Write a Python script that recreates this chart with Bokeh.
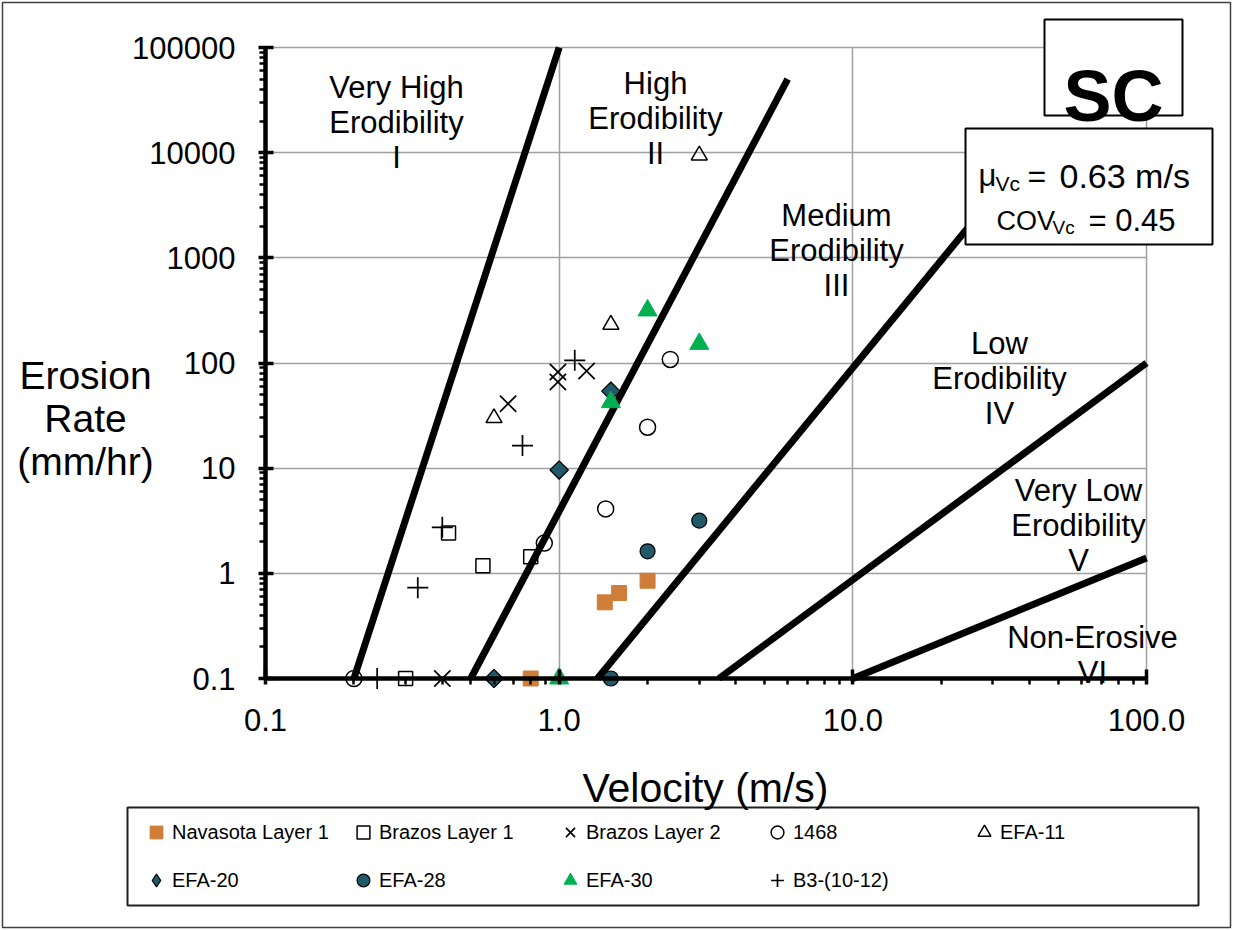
from bokeh.plotting import figure
from bokeh.models import (Range1d, FixedTicker, CustomJSTickFormatter, Label,
                          BoxAnnotation, Legend, LegendItem)
from bokeh.embed import file_html
from bokeh.resources import INLINE
import math

# ---------------- data (velocity m/s, erosion rate mm/hr) ----------------
navasota_v = [1.43, 1.6, 2.0, 0.8]
navasota_e = [0.53, 0.65, 0.85, 0.1]
brazos1_v = [0.42, 0.55, 0.8, 0.3]
brazos1_e = [2.42, 1.18, 1.44, 0.1]
brazos2_v = [0.67, 0.99, 0.99, 1.24, 0.4]
brazos2_e = [41, 82, 66, 84, 0.1]
s1468_v = [0.2, 0.89, 1.44, 2.0, 2.39]
s1468_e = [0.1, 1.94, 4.1, 24.5, 108]
efa11_v = [0.6, 1.5, 3.0]
efa11_e = [30, 232, 9440]
efa20_v = [1.0, 1.5, 0.6]
efa20_e = [9.6, 54, 0.1]
efa28_v = [2.0, 3.0, 1.5]
efa28_e = [1.62, 3.17, 0.1]
efa30_v = [2.0, 3.0, 1.5, 1.0]
efa30_e = [316, 152, 42.4, 0.1]
b3_v = [0.4, 0.33, 0.75, 1.13, 0.24]
b3_e = [2.74, 0.73, 16.4, 106, 0.1]

# erodibility category boundary lines
boundary_v = [[0.2, 1.0], [0.5, 6.0], [1.35, 40.0], [3.5, 100.0], [10.0, 100.0]]
boundary_e = [[0.1, 1e5], [0.1, 5e4], [0.1, 1e4], [0.1, 100.0], [0.1, 1.4]]

x_min, x_max = 0.1, 100
y_min, y_max = 0.1, 100000
x_ticks = [0.1, 1, 10, 100]
y_ticks = [0.1, 1, 10, 100, 1000, 10000, 100000]

region_texts = [["Very High", "Erodibility", "I"],
                ["High", "Erodibility", "II"],
                ["Medium", "Erodibility", "III"],
                ["Low", "Erodibility", "IV"],
                ["Very Low", "Erodibility", "V"],
                ["Non-Erosive", "VI"]]

# ---------------- geometry: plot area inside a full-canvas frame ----------------
W, H = 1233, 930
AL, AR, AT, AB = 265, 1146, 47, 678   # pixel box of the axes area


def fx(px):
    return 10 ** (math.log10(x_min) + math.log10(x_max / x_min) * (px - AL) / (AR - AL))


def fy(py):
    return 10 ** (math.log10(y_max) - math.log10(y_max / y_min) * (py - AT) / (AB - AT))


p = figure(width=W, height=H, x_axis_type="log", y_axis_type="log",
           x_range=Range1d(fx(0), fx(W)), y_range=Range1d(fy(H), fy(0)),
           output_backend="svg", toolbar_location=None,
           min_border=0, min_border_left=0, min_border_right=0,
           min_border_top=0, min_border_bottom=0)
p.outline_line_color = None
p.background_fill_color = "white"
p.border_fill_color = "white"


def minors(lo, hi):
    out = []
    for d in range(lo, hi):
        for k in range(2, 10):
            out.append(k * 10 ** d)
    return out


xt = FixedTicker(ticks=x_ticks, minor_ticks=minors(-1, 2))
yt = FixedTicker(ticks=y_ticks, minor_ticks=minors(-1, 5))
xa = p.xaxis[0]
ya = p.yaxis[0]
xa.ticker = xt
ya.ticker = yt
xa.fixed_location = y_min
ya.fixed_location = x_min
xa.bounds = (x_min, x_max)
ya.bounds = (y_min, y_max)
xa.formatter = CustomJSTickFormatter(code="return tick.toFixed(1);")
ya.formatter = CustomJSTickFormatter(
    code="return tick >= 1 ? tick.toFixed(0) : tick.toFixed(1);")
for ax in (xa, ya):
    ax.axis_line_color = "black"
    ax.axis_line_width = 4.5
    ax.major_tick_line_color = "black"
    ax.major_tick_line_width = 3.5
    ax.minor_tick_line_color = "black"
    ax.minor_tick_line_width = 2.5
    ax.major_label_text_font = "Liberation Sans"
    ax.major_label_text_font_size = "31px"
    ax.major_label_text_color = "black"
xa.major_tick_in = 9
xa.major_tick_out = 6
xa.minor_tick_in = 0
xa.minor_tick_out = 6
xa.major_label_standoff = 24
ya.major_tick_in = 8
ya.major_tick_out = 7
ya.minor_tick_in = 0
ya.minor_tick_out = 6
ya.major_label_standoff = 23

GRID = "#a0a0a0"
xg = p.xgrid[0]
yg = p.ygrid[0]
xg.ticker = xt
yg.ticker = yt
xg.grid_line_color = GRID
yg.grid_line_color = GRID
xg.grid_line_width = 1.5
yg.grid_line_width = 1.5
try:
    xg.bounds = (x_min, x_max)
    xg.cross_bounds = (y_min, y_max)
    yg.bounds = (y_min, y_max)
    yg.cross_bounds = (x_min, x_max)
except AttributeError:
    xg.visible = False
    yg.visible = False
    p.multi_line(xs=[[t, t] for t in x_ticks] + [[x_min, x_max] for _ in y_ticks],
                 ys=[[y_min, y_max] for _ in x_ticks] + [[t, t] for t in y_ticks],
                 line_color=GRID, line_width=1.5, level="underlay")

# boundary lines
p.multi_line(xs=boundary_v, ys=boundary_e, line_color="black", line_width=7)

# data series
ORANGE = "#cf7e3a"
TEAL = "#215968"
GREEN = "#00b050"
r_nav = p.scatter(navasota_v, navasota_e, marker="square", size=15,
                  fill_color=ORANGE, line_color=ORANGE)
r_b1 = p.scatter(brazos1_v, brazos1_e, marker="square", size=14,
                 fill_color=None, line_color="black", line_width=1.5)
r_b2 = p.scatter(brazos2_v, brazos2_e, marker="x", size=23,
                 line_color="black", line_width=1.7)
r_1468 = p.scatter(s1468_v, s1468_e, marker="circle", size=16,
                   fill_color=None, line_color="black", line_width=1.5)
r_e11 = p.scatter(efa11_v, efa11_e, marker="triangle", size=16,
                  fill_color=None, line_color="black", line_width=1.5)
# EFA-20: diamond (legend symbol) under a 45-degree square of the same points
r_e20 = p.scatter(efa20_v, efa20_e, marker="diamond", size=16,
                  fill_color=TEAL, line_color="black", line_width=1.2)
p.scatter(efa20_v, efa20_e, marker="square", angle=math.pi / 4, size=13,
          fill_color=TEAL, line_color="black", line_width=1.2)
r_e28 = p.scatter(efa28_v, efa28_e, marker="circle", size=15,
                  fill_color=TEAL, line_color="black", line_width=1.2)
r_e30 = p.scatter(efa30_v, efa30_e, marker="triangle", size=19,
                  fill_color=GREEN, line_color=GREEN)
r_b3 = p.scatter(b3_v, b3_e, marker="cross", size=21,
                 line_color="black", line_width=1.7)

FONT = "Liberation Sans"


def box(l, r, t, b, color="black", width=2, fill=True):
    p.add_layout(BoxAnnotation(left=fx(l), right=fx(r), top=fy(t), bottom=fy(b),
                               fill_color="white", fill_alpha=1 if fill else 0,
                               line_color=color, line_alpha=1, line_width=width))


# boxes (outer border, legend frame, SC box, statistics box)
box(2, 1230, 2, 927, color="#404040", width=1.5, fill=False)
box(127, 1198, 807, 905, color="#202020", width=2)
box(1044, 1182, 19, 115)
box(965, 1212, 128, 244)

# legend
items = [("Navasota Layer 1", r_nav), ("Brazos Layer 1", r_b1), ("Brazos Layer 2", r_b2),
         ("1468", r_1468), ("EFA-11", r_e11), ("EFA-20", r_e20), ("EFA-28", r_e28),
         ("EFA-30", r_e30), ("B3-(10-12)", r_b3)]
legend = Legend(items=[LegendItem(label=t, renderers=[r]) for t, r in items],
                location=(140, H - 896), orientation="horizontal", ncols=5,
                glyph_width=32, glyph_height=32, label_height=32, label_width=159,
                label_standoff=0, spacing=16, padding=0, margin=0,
                border_line_color=None, background_fill_alpha=0,
                label_text_font=FONT, label_text_font_size="20px",
                label_text_color="black")
p.add_layout(legend)


def lab(text, px, py, size, align="center", bold=False, font=FONT):
    p.add_layout(Label(x=fx(px), y=fy(py), text=text, text_font=font,
                       text_font_size=f"{size}px", text_align=align,
                       text_baseline="alphabetic", text_color="black",
                       text_font_style="bold" if bold else "normal"))


# region labels: (center x, first baseline)
region_pos = [(396, 87), (655, 83), (836, 215), (999, 343), (1078, 490), (1092, 637)]
for lines, (cx, by) in zip(region_texts, region_pos):
    for i, t in enumerate(lines):
        lab(t, cx, by + 35 * i, 31)

# axis titles
lab("Erosion", 85, 375, 39)
lab("Rate", 85, 418, 39)
lab("(mm/hr)", 85, 461, 39)
lab("Velocity (m/s)", 705, 787, 41)

# SC box
lab("SC", 1113, 95, 72, bold=True)

# statistics box
lab("\u03bc", 978, 175, 31, align="left")
lab("Vc", 995, 183, 21, align="left")
lab("=", 1027, 175, 32, align="left")
lab("0.63 m/s", 1059, 175, 34, align="left")
lab("COV", 996, 220, 27, align="left")
lab("Vc", 1052, 227, 19, align="left")
lab("= 0.45", 1088, 220, 31, align="left")

open("out.html", "w").write(file_html(p, INLINE))
